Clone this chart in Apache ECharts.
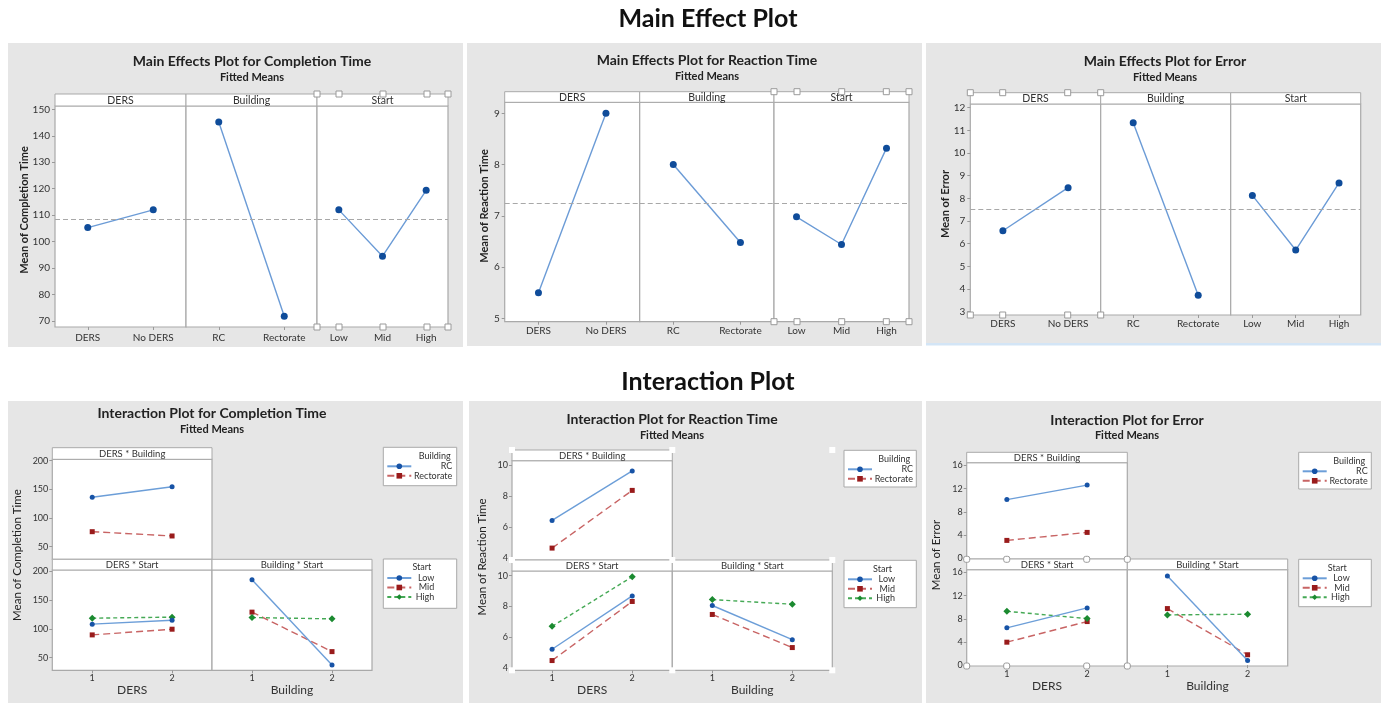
<!DOCTYPE html>
<html><head><meta charset="utf-8">
<script src="https://cdn.jsdelivr.net/npm/echarts@6/dist/echarts.min.js"></script>
<style>html,body{margin:0;padding:0;background:#fff;}#c{width:1385px;height:703px;}</style>
</head><body><div id="c"></div>
<script>
// ------------------------- DATA -------------------------
const mainTitle = 'Main Effect Plot';
const interactionTitle = 'Interaction Plot';
const subtitle = 'Fitted Means';
const responses = ['Completion Time', 'Reaction Time', 'Error'];
const factorNames = ['DERS', 'Building', 'Start'];
const dersLevels = ['DERS', 'No DERS'];
const buildingLevels = ['RC', 'Rectorate'];
const startLevels = ['Low', 'Mid', 'High'];
const codedLevels = ['1', '2'];
const interactionStrips = ['DERS * Building', 'DERS * Start', 'Building * Start'];

// main effects (fitted means)
const completionDers = [105.3, 112.0];
const completionBuilding = [145.2, 71.8];
const completionStart = [112.0, 94.5, 119.4];
const completionMean = 108.4;
const completionTicks = [70, 80, 90, 100, 110, 120, 130, 140, 150];

const reactionDers = [5.5, 9.0];
const reactionBuilding = [8.0, 6.48];
const reactionStart = [6.98, 6.44, 8.32];
const reactionMean = 7.25;
const reactionTicks = [5, 6, 7, 8, 9];

const errorDers = [6.57, 8.47];
const errorBuilding = [11.34, 3.72];
const errorStart = [8.13, 5.72, 8.68];
const errorMean = 7.52;
const errorTicks = [3, 4, 5, 6, 7, 8, 9, 10, 11, 12];

// interaction means: one row per trace level, columns = coded level 1, 2
const completionDersByBuilding = [[136.2, 154.7], [76.2, 68.7]];
const completionDersByStart = [[108.3, 115.2], [89.6, 99.5], [118.7, 120.5]];
const completionBuildingByStart = [[185.5, 37.3], [129.2, 60.5], [119.8, 117.5]];
const completionInterTicks = [50, 100, 150, 200];

const reactionDersByBuilding = [[6.44, 9.64], [4.65, 8.38]];
const reactionDersByStart = [[5.24, 8.69], [4.51, 8.33], [6.72, 9.93]];
const reactionBuildingByStart = [[8.07, 5.86], [7.49, 5.35], [8.45, 8.15]];
const reactionInterTicks = [4, 6, 8, 10];

const errorDersByBuilding = [[10.1, 12.6], [3.06, 4.44]];
const errorDersByStart = [[6.43, 9.88], [3.96, 7.52], [9.29, 8.03]];
const errorBuildingByStart = [[15.39, 0.81], [9.76, 1.79], [8.67, 8.78]];
const errorInterTicks = [0, 4, 8, 12, 16];

// ------------------------- LAYOUT / STYLE -------------------------
const FONT = 'Lato, "Open Sans", sans-serif';
const FRAME = '#a9a9a9';
const PANEL_BG = '#e6e6e6';
const TXT = '#333';

const mainPanels = [
  {bg: [8, 43, 455, 304], title: [252, 61], sub: [252, 77], ytitle: [24, 210],
   cols: [55, 186, 317, 448], stripTop: 94, top: 106, bottom: 327, range: [67.73, 151.25], xMargin: 6,
   handles: {xs: [317, 339, 383, 427, 448], ys: [94, 327]}},
  {bg: [467, 43, 455, 303], title: [707, 60], sub: [707, 76], ytitle: [484, 206],
   cols: [504.7, 639.7, 774, 909], stripTop: 91.7, top: 102.3, bottom: 321.7, range: [4.934, 9.215], xMargin: 4,
   handles: {xs: [774, 797, 841.7, 886.3, 909], ys: [91.7, 321.7]}},
  {bg: [926, 43, 455, 300], title: [1165, 61.7], sub: [1165, 77.3], ytitle: [945, 204],
   cols: [970.3, 1100.7, 1230.7, 1360.7], stripTop: 92.7, top: 104, bottom: 315, range: [2.854, 12.163], xMargin: 4,
   handles: {xs: [970.3, 1002.7, 1067.7, 1100.7], ys: [92.7, 315]}}
];

const interPanels = [
  {bg: [8, 401, 455, 302], title: [212, 413], sub: [212, 429], ytitle: [17, 555],
   cols: [52.3, 212, 372], rows: [447.7, 459.3, 559.3, 570, 670.3], range: [28, 202.5],
   nameGap: 14, legend1: [383.3, 447.3, 73.4, 38.4], legend2: [383.3, 559, 73.4, 49.3], handles: null},
  {bg: [469, 401, 453, 302], title: [672, 419], sub: [672, 435], ytitle: [482, 557],
   cols: [512, 672.3, 832.3], rows: [450, 460.7, 560, 571, 670.3], range: [3.88, 10.3],
   nameGap: 14, legend1: [844, 450.3, 72.3, 36.7], legend2: [844, 560.3, 72.3, 47.4],
   handles: {xs: [512, 672.3, 832.3], ys: [450, 560, 670.3], plain: true}},
  {bg: [926, 401, 455, 302], title: [1127, 420], sub: [1127, 435.3], ytitle: [936, 555],
   cols: [966.7, 1127.3, 1287.7], rows: [452.3, 462.7, 559, 569.7, 666], range: [-0.15, 16.47],
   nameGap: 14, legend1: [1298.7, 452.3, 72.6, 36.7], legend2: [1298.7, 559.3, 72.6, 47.4],
   handles: {xs: [966.7, 1006.7, 1086.7, 1127.3], ys: [559.3, 666], round: true}}
];

const traceStyles = [
  {symbol: 'circle', size: 5, mark: '#1753a6', line: '#6c9ed8', type: 'solid'},
  {symbol: 'rect', size: 5, mark: '#991b1b', line: '#c86464', type: [7, 4]},
  {symbol: 'diamond', size: 7, mark: '#1b8a30', line: '#45a955', type: [4, 3]}
];

// ------------------------- BUILD -------------------------
const mainData = [
  {groups: [completionDers, completionBuilding, completionStart], mean: completionMean, ticks: completionTicks},
  {groups: [reactionDers, reactionBuilding, reactionStart], mean: reactionMean, ticks: reactionTicks},
  {groups: [errorDers, errorBuilding, errorStart], mean: errorMean, ticks: errorTicks}
];
const mainLevels = [dersLevels, buildingLevels, startLevels];
const interData = [
  {tables: [completionDersByBuilding, completionDersByStart, completionBuildingByStart], ticks: completionInterTicks},
  {tables: [reactionDersByBuilding, reactionDersByStart, reactionBuildingByStart], ticks: reactionInterTicks},
  {tables: [errorDersByBuilding, errorDersByStart, errorBuildingByStart], ticks: errorInterTicks}
];

const grids = [], xAxes = [], yAxes = [], series = [], legends = [], gfx = [];

function txt(x, y, text, font, fill, align) {
  gfx.push({type: 'text', x: x, y: y, z: 6,
    style: {text: text, font: font, fill: fill || TXT, align: align || 'center', verticalAlign: 'middle'}});
}
function box(x, y, w, h, fill, stroke, z) {
  gfx.push({type: 'rect', z: z, shape: {x: x, y: y, width: w, height: h},
    style: {fill: fill, stroke: stroke || null, lineWidth: stroke ? 1 : 0}});
}
function addGrid(x0, x1, y0, y1) {
  grids.push({left: x0, top: y0, width: x1 - x0, height: y1 - y0, show: true,
    backgroundColor: '#fff', borderColor: FRAME, borderWidth: 1.2});
  return grids.length - 1;
}
function handles(h) {
  if (!h) return;
  h.xs.forEach(x => h.ys.forEach(y => {
    gfx.push({type: 'rect', z: 10, shape: {x: x - 3, y: y - 3, width: 6, height: 6, r: h.round ? 2 : 0},
      style: {fill: '#fff', stroke: h.plain ? null : '#9a9a9a', lineWidth: h.plain ? 0 : 1}});
  }));
}

// headings
txt(708, 19, mainTitle, 'bold 25px ' + FONT, '#111');
txt(708, 382, interactionTitle, 'bold 25px ' + FONT, '#111');

// main effects panels
mainPanels.forEach((P, i) => {
  const D = mainData[i];
  box(P.bg[0], P.bg[1], P.bg[2], P.bg[3], PANEL_BG, null, -10);
  txt(P.title[0], P.title[1], 'Main Effects Plot for ' + responses[i], 'bold 14px ' + FONT, '#222');
  txt(P.sub[0], P.sub[1], subtitle, 'bold 11px ' + FONT, '#222');
  gfx.push({type: 'text', x: P.ytitle[0], y: P.ytitle[1], rotation: Math.PI / 2, z: 6,
    style: {text: 'Mean of ' + responses[i], font: 'bold 11px ' + FONT, fill: '#222', align: 'center', verticalAlign: 'middle'}});
  for (let j = 0; j < 3; j++) {
    const x0 = P.cols[j], x1 = P.cols[j + 1];
    box(x0, P.stripTop, x1 - x0, P.top - P.stripTop, '#fff', FRAME, 1);
    txt((x0 + x1) / 2, (P.stripTop + P.top) / 2 + 0.5, factorNames[j], '10.5px ' + FONT);
    const g = addGrid(x0, x1, P.top, P.bottom);
    xAxes.push({type: 'category', gridIndex: g, data: mainLevels[j], boundaryGap: true,
      axisLine: {show: false}, axisTick: {show: true, alignWithLabel: true, length: 3, lineStyle: {color: '#999'}},
      axisLabel: {fontSize: 10, color: TXT, margin: P.xMargin, fontFamily: FONT}, splitLine: {show: false}});
    yAxes.push({type: 'value', gridIndex: g, min: P.range[0], max: P.range[1],
      axisLine: {show: false}, splitLine: {show: false},
      axisTick: {show: j === 0, length: 3, customValues: D.ticks, lineStyle: {color: '#999'}},
      axisLabel: {show: j === 0, customValues: D.ticks, fontSize: 10, color: TXT, margin: 5, fontFamily: FONT}});
    series.push({type: 'line', name: responses[i] + ' / ' + factorNames[j], xAxisIndex: g, yAxisIndex: g,
      data: D.groups[j], symbol: 'circle', symbolSize: 7, animation: false, silent: true, z: 3,
      itemStyle: {color: '#0f4c9a'}, lineStyle: {color: '#6b9bd6', width: 1.4},
      markLine: {silent: true, symbol: ['none', 'none'], label: {show: false}, animation: false,
        lineStyle: {type: [5, 3], color: '#a8a8a8', width: 1.2}, data: [{yAxis: D.mean}]}});
  }
  handles(P.handles);
});
// thin blue rule below third main panel
box(926, 343, 455, 2.5, '#d3e5f6', null, -9);

// interaction panels
interPanels.forEach((P, i) => {
  const D = interData[i];
  const [L, M, R] = P.cols;
  const [sTop, sBot, mid, s2Bot, bottom] = P.rows;
  box(P.bg[0], P.bg[1], P.bg[2], P.bg[3], PANEL_BG, null, -10);
  txt(P.title[0], P.title[1], 'Interaction Plot for ' + responses[i], 'bold 14px ' + FONT, '#222');
  txt(P.sub[0], P.sub[1], subtitle, 'bold 11px ' + FONT, '#222');
  gfx.push({type: 'text', x: P.ytitle[0], y: P.ytitle[1], rotation: Math.PI / 2, z: 6,
    style: {text: 'Mean of ' + responses[i], font: '11.5px ' + FONT, fill: '#222', align: 'center', verticalAlign: 'middle'}});
  const cells = [
    {x0: L, x1: M, st: sTop, top: sBot, bot: mid, trace: buildingLevels, xname: null, ylab: true},
    {x0: L, x1: M, st: mid, top: s2Bot, bot: bottom, trace: startLevels, xname: factorNames[0], ylab: true},
    {x0: M, x1: R, st: mid, top: s2Bot, bot: bottom, trace: startLevels, xname: factorNames[1], ylab: false}
  ];
  cells.forEach((C, k) => {
    box(C.x0, C.st, C.x1 - C.x0, C.top - C.st, '#fff', FRAME, 1);
    txt((C.x0 + C.x1) / 2, (C.st + C.top) / 2 + 0.5, interactionStrips[k], '9.5px ' + FONT);
    const g = addGrid(C.x0, C.x1, C.top, C.bot);
    xAxes.push({type: 'category', gridIndex: g, data: codedLevels, boundaryGap: true,
      axisLine: {show: false}, splitLine: {show: false},
      axisTick: {show: !!C.xname, alignWithLabel: true, length: 3, lineStyle: {color: '#999'}},
      axisLabel: {show: !!C.xname, fontSize: 9, color: TXT, margin: 3.5, fontFamily: FONT},
      name: C.xname || '', nameLocation: 'middle', nameGap: P.nameGap,
      nameTextStyle: {fontSize: 12, color: TXT, fontFamily: FONT}});
    yAxes.push({type: 'value', gridIndex: g, min: P.range[0], max: P.range[1],
      axisLine: {show: false}, splitLine: {show: false},
      axisTick: {show: C.ylab, length: 3, customValues: D.ticks, lineStyle: {color: '#999'}},
      axisLabel: {show: C.ylab, customValues: D.ticks, fontSize: 9, color: TXT, margin: 4, fontFamily: FONT}});
    D.tables[k].forEach((row, t) => {
      const S = traceStyles[t];
      series.push({type: 'line', name: C.trace[t], xAxisIndex: g, yAxisIndex: g, data: row,
        symbol: S.symbol, symbolSize: S.size, animation: false, silent: true, z: 3 + (t === 0 ? 1 : 0),
        itemStyle: {color: S.mark}, lineStyle: {color: S.line, width: 1.4, type: S.type}});
    });
  });
  // legends (text right-aligned like Minitab)
  [[P.legend1, factorNames[1], buildingLevels, 36, P.legend1[2] - 6],
   [P.legend2, factorNames[2], startLevels, 18, 48]].forEach(([b, title, names, tw, titleRight]) => {
    box(b[0], b[1], b[2], b[3], '#fff', FRAME, 1);
    txt(b[0] + titleRight, b[1] + 8.5, title, '9px ' + FONT, TXT, 'right');
    legends.push({data: names, orient: 'vertical', left: b[0] + 3, top: b[1] + 14.5, padding: 0,
      itemWidth: 24, itemHeight: 7, itemGap: 0.5, selectedMode: false,
      formatter: n => '{t|' + n + '}',
      textStyle: {fontSize: 9, color: TXT, fontFamily: FONT,
        rich: {t: {width: tw, align: 'right', fontSize: 9, color: TXT, fontFamily: FONT}}}});
  });
  handles(P.handles);
});

const chart = echarts.init(document.getElementById('c'), null, {renderer: 'canvas', width: 1385, height: 703});
chart.setOption({
  backgroundColor: '#fff',
  animation: false,
  grid: grids, xAxis: xAxes, yAxis: yAxes, series: series, legend: legends,
  graphic: {elements: gfx}
});
</script>
</body></html>
